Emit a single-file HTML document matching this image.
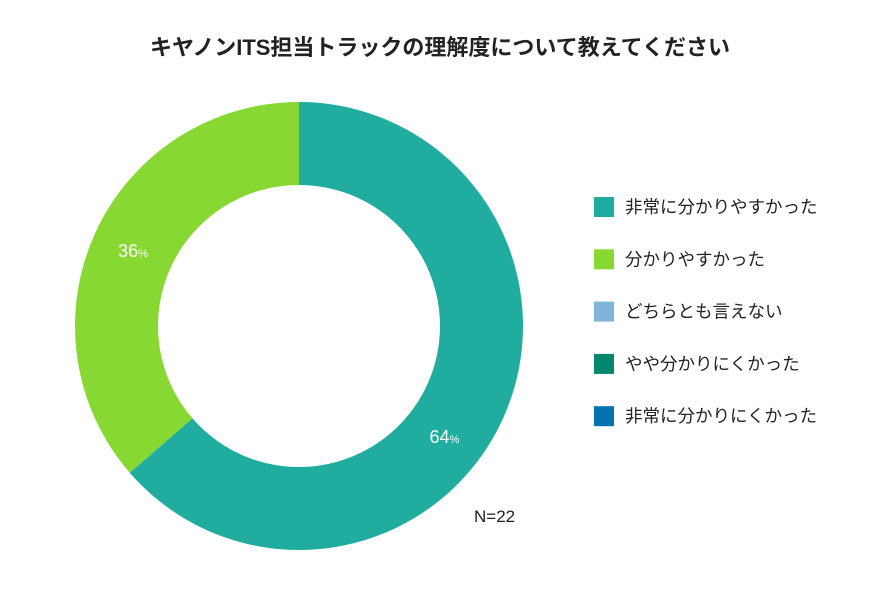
<!DOCTYPE html>
<html><head><meta charset="utf-8"><style>
body{margin:0;background:#fff;}
svg text{font-family:"Liberation Sans","Noto Sans CJK JP",sans-serif;}
</style></head><body>
<svg id="chart" width="880" height="586">
<text x="440" y="55" text-anchor="middle" font-size="22" font-weight="bold" fill="#222">キヤノンITS担当トラックの理解度について教えてください</text>
<g id="slices"></g>
<g id="legend"></g>
<text x="474" y="522" font-size="17" fill="#222">N=22</text>
</svg>
<script>
const categories=["非常に分かりやすかった","分かりやすかった","どちらとも言えない","やや分かりにくかった","非常に分かりにくかった"];
const counts=[14,8,0,0,0];
const colors=["#20ada0","#88d834","#7fb5d9","#00876d","#0072ad"];
const total=22;
const cx=299,cy=326,R=224,r=141;
const labelShift=[0.22,0,0,0,0];
const NS="http://www.w3.org/2000/svg";
const gs=document.getElementById('slices'),gl=document.getElementById('legend');
let a0=0;
function pt(a,rad){return [cx+rad*Math.sin(a),cy-rad*Math.cos(a)];}
counts.forEach((v,i)=>{
  if(v<=0)return;
  const a1=a0+v/total*2*Math.PI;
  const big=(a1-a0)>Math.PI?1:0;
  const [x0,y0]=pt(a0,R),[x1,y1]=pt(a1,R),[x2,y2]=pt(a1,r),[x3,y3]=pt(a0,r);
  const p=document.createElementNS(NS,'path');
  p.setAttribute('d',`M${x0},${y0}A${R},${R} 0 ${big} 1 ${x1},${y1}L${x2},${y2}A${r},${r} 0 ${big} 0 ${x3},${y3}Z`);
  p.setAttribute('fill',colors[i]);
  
  
  gs.appendChild(p);
  const mid=(a0+a1)/2+labelShift[i],[lx,ly]=pt(mid,(R+r)/2);
  const t=document.createElementNS(NS,'text');
  t.setAttribute('x',lx);t.setAttribute('y',ly+7);
  t.setAttribute('text-anchor','middle');t.setAttribute('fill','#fff');t.setAttribute('font-size','18');
  
  
  t.innerHTML=Math.round(v/total*100)+'<tspan font-size="11">%</tspan>';
  gs.appendChild(t);
  a0=a1;
});
categories.forEach((c,i)=>{
  const y=207+i*52.3;
  const s=document.createElementNS(NS,'rect');
  s.setAttribute('x',594);s.setAttribute('y',y-10);s.setAttribute('width',20);s.setAttribute('height',20);
  s.setAttribute('fill',colors[i]);
  
  
  gl.appendChild(s);
  const t=document.createElementNS(NS,'text');
  t.setAttribute('x',625);t.setAttribute('y',y+6);t.setAttribute('font-size','17.5');t.setAttribute('fill','#222');
  
  
  t.textContent=c;
  gl.appendChild(t);
});
</script>
</body></html>
